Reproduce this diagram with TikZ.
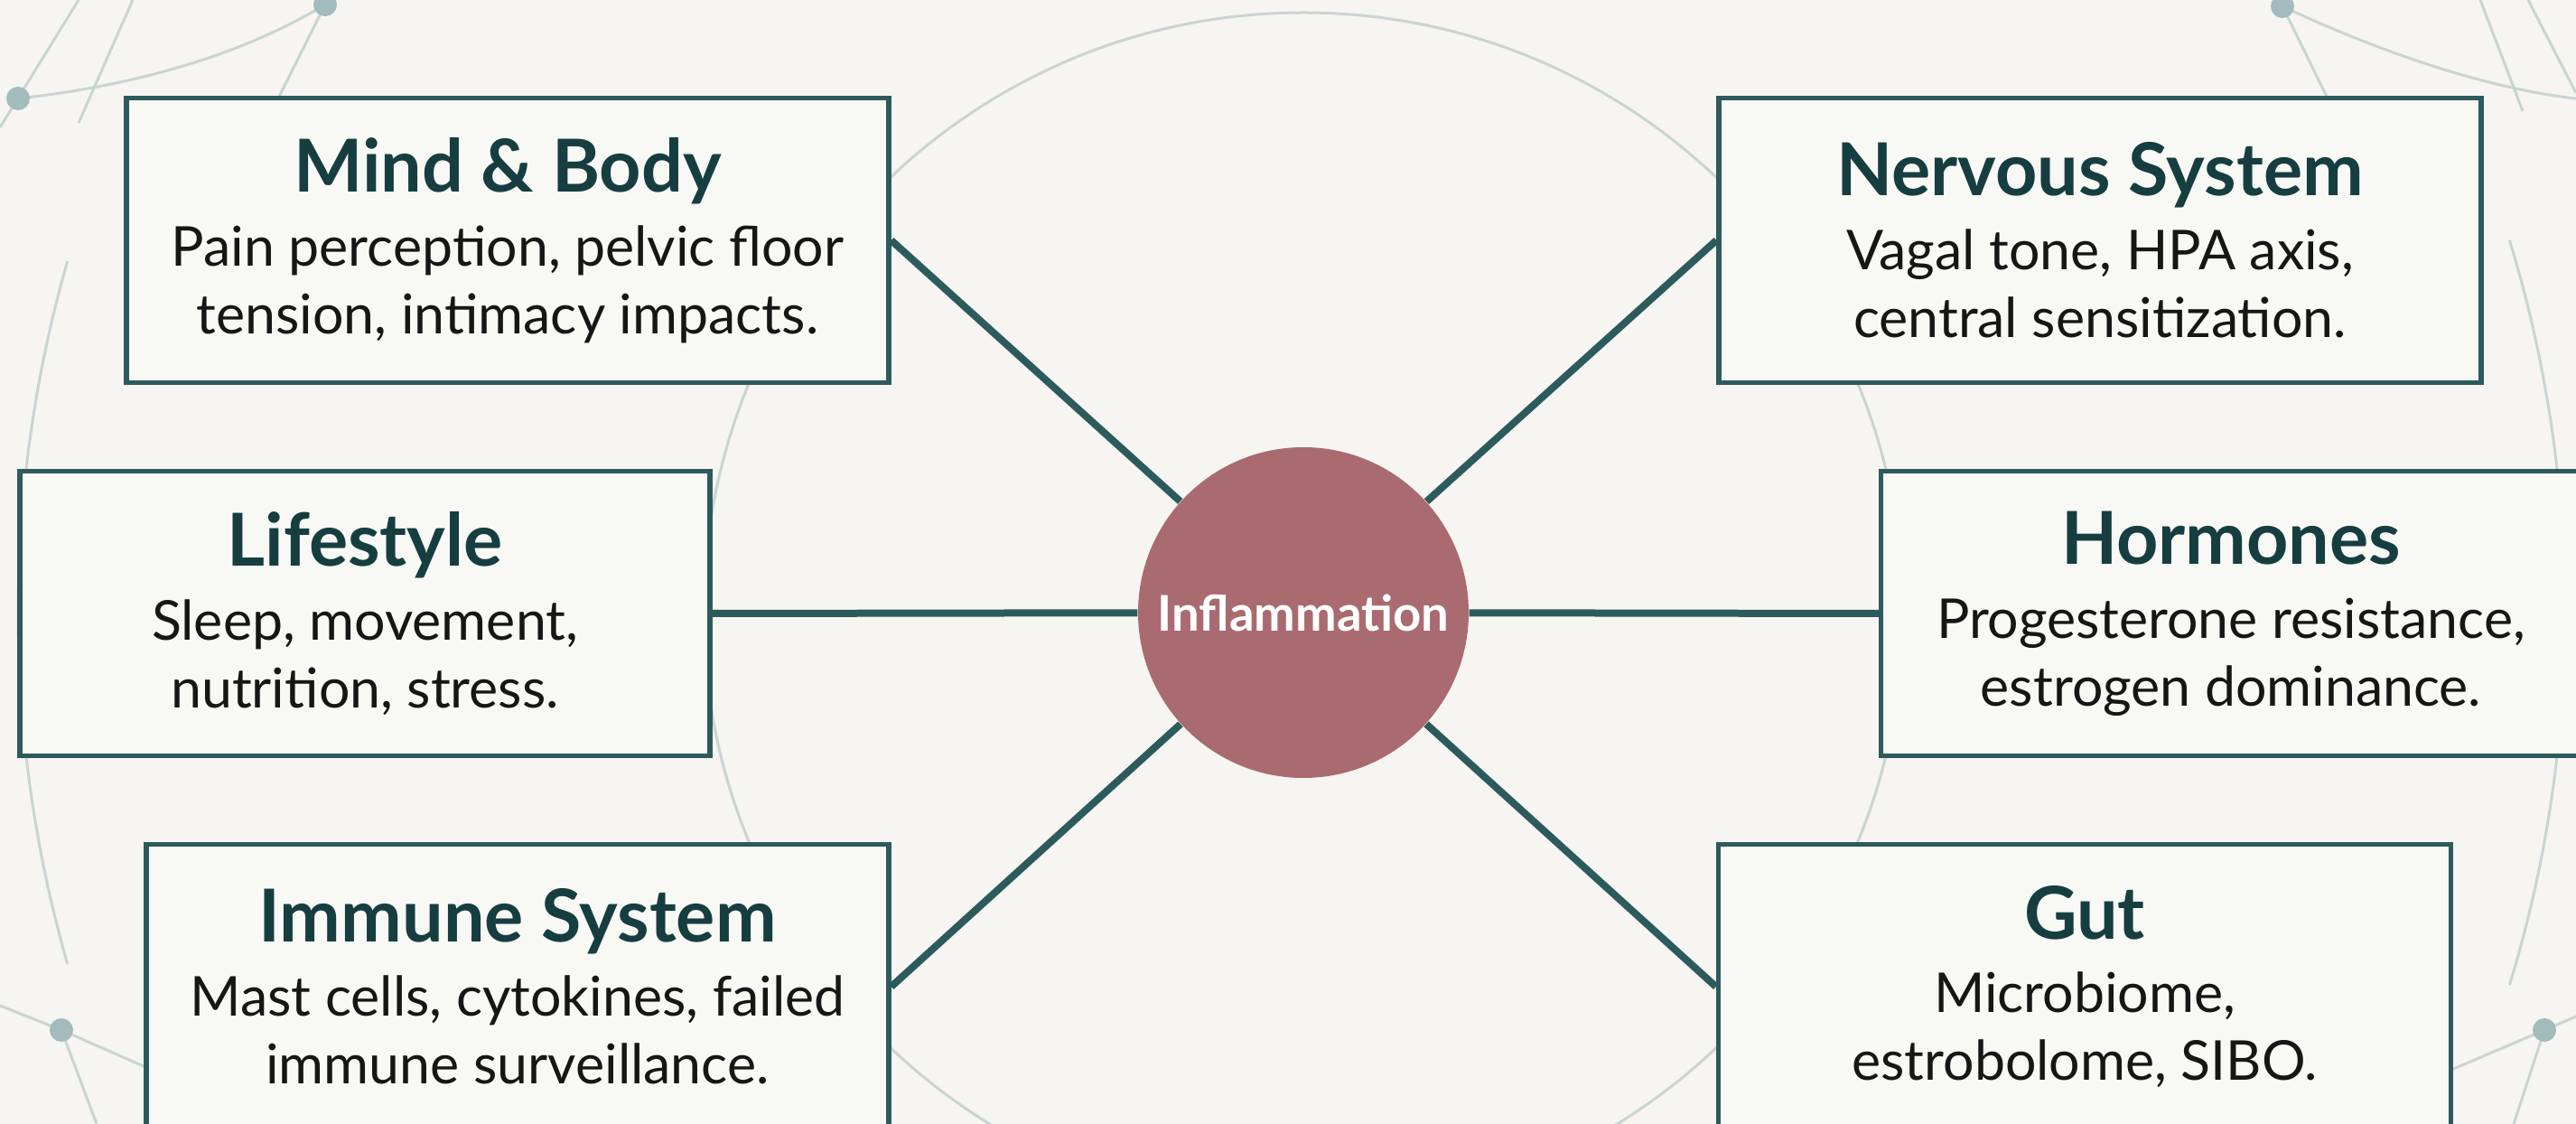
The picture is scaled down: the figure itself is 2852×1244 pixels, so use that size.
\documentclass[tikz,border=0pt]{standalone}
\usepackage{fontspec}
\setmainfont{Lato}
\usepackage{xcolor}
\usepackage{tikz}
\usetikzlibrary{positioning, calc}

\definecolor{pagebg}{HTML}{F6F5F1}
\definecolor{boxbg}{HTML}{F8F8F5}
\definecolor{edgeteal}{HTML}{2D5B5D}
\definecolor{titleteal}{HTML}{163E40}
\definecolor{bodyink}{HTML}{161616}
\definecolor{rose}{HTML}{A96B70}
\definecolor{decoline}{HTML}{CAD4D3}
\definecolor{decodot}{HTML}{A2BBBD}

\newcommand\cardtitle[1]{{\color{titleteal}\bfseries\fontsize{23}{23}\selectfont #1}\\[2pt]}

\begin{document}
\begin{tikzpicture}[
    x=0.1mm, y=-0.1mm,
    card/.style={draw=edgeteal, line width=0.55mm, fill=boxbg, minimum height=31.5mm, align=center, inner sep=0pt, text=bodyink, font=\fontsize{17.3}{21.3}\selectfont},
    hub/.style={circle, fill=rose, minimum size=36.6mm, inner sep=0pt, text=white, font=\bfseries\fontsize{15.5}{18}\selectfont},
    link/.style={draw=edgeteal, line width=0.8mm},
    deco/.style={draw=decoline, line width=0.3mm},
    dot/.style={fill=decodot},
]

\useasboundingbox (0,0) rectangle (2852,1244);
\fill[pagebg] (0,0) rectangle (2852,1244);

\coordinate (mid) at (1443,678);

% faint background rings and corner network
\draw[deco] (mid) circle[radius=664];
\draw[deco] ($(mid)+(-13,0)+(164:1410)$) arc[start angle=164, end angle=196, radius=1410];
\draw[deco] ($(mid)+(-13,0)+(-17:1410)$) arc[start angle=-17, end angle=17, radius=1410];

\draw[deco] (20,109) .. controls (150,95) and (270,60) .. (360,5);
\draw[deco] (87,0) -- (0,141);
\draw[deco] (147,0) -- (87,136);
\draw[deco] (360,5) -- (305,115);
\fill[dot] (20,109) circle[radius=13];
\fill[dot] (360,5) circle[radius=13];

\draw[deco] (2527,7) .. controls (2640,60) and (2760,100) .. (2860,110);
\draw[deco] (2527,7) -- (2580,115);
\draw[deco] (2746,0) -- (2793,123);
\draw[deco] (2799,0) -- (2852,103);
\fill[dot] (2527,7) circle[radius=13];

\draw[deco] (0,1113) -- (68,1140) -- (170,1185);
\draw[deco] (68,1140) -- (107,1244);
\fill[dot] (68,1140) circle[radius=13];

\draw[deco] (2700,1190) -- (2817,1140) -- (2852,1125);
\draw[deco] (2817,1140) -- (2783,1244);
\fill[dot] (2817,1140) circle[radius=13];

\node[card, minimum width=84.4mm] (mind) at (562,266) {\cardtitle{Mind \& Body}Pain perception, pelvic floor\\tension, intimacy impacts.};
\node[card, minimum width=84.4mm] (nerves) at (2325,266) {\cardtitle{Nervous System}Vagal tone, HPA axis,\\central sensitization.};
\node[card, minimum width=76.4mm] (life) at (404,679) {\cardtitle{Lifestyle}Sleep, movement,\\nutrition, stress.};
\node[card, minimum width=77.5mm] (hormones) at (2470,679) {\cardtitle{Hormones}Progesterone resistance,\\estrogen dominance.};
\node[card, minimum width=82.2mm] (immune) at (573,1092) {\cardtitle{Immune System}Mast cells, cytokines, failed\\immune surveillance.};
\node[card, minimum width=81.1mm] (gut) at (2308,1092) {\cardtitle{Gut}Microbiome,\\estrobolome, SIBO.};

\node[hub] (infl) at (mid) {Inflammation};

\draw[link] (mind.east) -- (infl);
\draw[link] (nerves.west) -- (infl);
\draw[link] (life.east) -- (infl);
\draw[link] (hormones.west) -- (infl);
\draw[link] (immune.east) -- (infl);
\draw[link] (gut.west) -- (infl);

\end{tikzpicture}
\end{document}
